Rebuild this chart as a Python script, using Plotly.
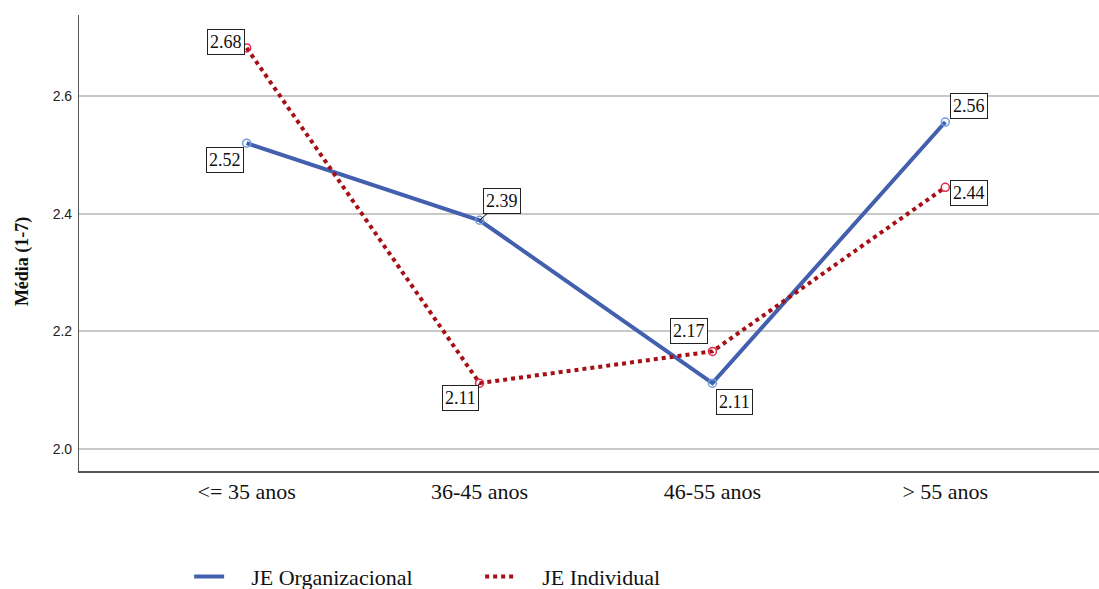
import plotly.graph_objects as go

categories = ["<= 35 anos", "36-45 anos", "46-55 anos", "> 55 anos"]
je_org = [2.52, 2.389, 2.112, 2.556]
je_ind = [2.682, 2.112, 2.166, 2.445]
org_labels = ["2.52", "2.39", "2.11", "2.56"]
ind_labels = ["2.68", "2.11", "2.17", "2.44"]
y_ticks = [2.0, 2.2, 2.4, 2.6]
y_tick_text = ["2.0", "2.2", "2.4", "2.6"]

xs = list(range(len(categories)))

BLUE = "#4360AF"
RED = "#A50F15"
PAD = "&nbsp;&nbsp;&nbsp;&nbsp;"

fig = go.Figure()
fig.add_trace(go.Scatter(
    x=xs, y=je_org, mode="lines", name=PAD + "JE Organizacional",
    line=dict(color=BLUE, width=4),
))
fig.add_trace(go.Scatter(
    x=xs, y=je_ind, mode="lines", name=PAD + "JE Individual",
    line=dict(color=RED, width=4, dash="dot"),
))
fig.add_trace(go.Scatter(
    x=xs, y=je_org, mode="markers", showlegend=False,
    marker=dict(symbol="circle-open", size=8, color="#6E9FE0", line=dict(width=1.5, color="#6E9FE0")),
))
fig.add_trace(go.Scatter(
    x=xs, y=je_ind, mode="markers", showlegend=False,
    marker=dict(symbol="circle-open", size=8, color="#E0284E", line=dict(width=1.5, color="#E0284E")),
))

org_off = [(-22, 17), (22, -19), (22, 19), (24, -16)]
ind_off = [(-21, -6), (-19, 15), (-23, -20), (24, 6)]

for vals, labs, offs, is_org in [(je_org, org_labels, org_off, True), (je_ind, ind_labels, ind_off, False)]:
    for i, (v, lab, (ax, ay)) in enumerate(zip(vals, labs, offs)):
        fig.add_annotation(
            x=xs[i], y=v, text=lab, showarrow=True, ax=ax, ay=ay,
            arrowhead=0, arrowwidth=1,
            arrowcolor="#000000" if (is_org and i == 1) else "rgba(0,0,0,0)",
            font=dict(family="Liberation Serif", size=18, color="#111111"),
            bgcolor="white", bordercolor="#222222", borderwidth=1, borderpad=2,
        )

fig.add_annotation(
    xref="paper", yref="paper", x=-0.056, y=0.46, text="<b>Média (1-7)</b>",
    textangle=-90, showarrow=False, xanchor="center", yanchor="middle",
    font=dict(family="Liberation Serif", size=18, color="#111111"),
)

fig.update_layout(
    width=1099, height=589,
    margin=dict(l=79, r=0, t=15, b=118, autoexpand=False),
    plot_bgcolor="white", paper_bgcolor="white",
    showlegend=True,
    legend=dict(
        orientation="h", x=0.108, y=-0.232, xanchor="left", yanchor="middle",
        font=dict(family="Liberation Serif", size=22, color="#111111"),
        itemwidth=30,
        entrywidth=246, entrywidthmode="pixels",
    ),
    xaxis=dict(
        range=[-0.72, 3.66], tickvals=xs, ticktext=categories,
        showgrid=False, zeroline=False, showline=True, linecolor="#555555", linewidth=1.5,
        ticks="", tickfont=dict(family="Liberation Serif", size=22, color="#111111"),
    ),
    yaxis=dict(
        range=[1.9626, 2.738], tickvals=y_ticks, ticktext=y_tick_text,
        showgrid=True, gridcolor="#C8C8C8", gridwidth=1.5, zeroline=False,
        showline=True, linecolor="#555555", linewidth=1.2, ticks="",
        ticklabelstandoff=3,
        tickfont=dict(family="Liberation Sans", size=14, color="#222222"),
    ),
)

fig.write_html(
    "out.html",
    config={"displayModeBar": False},
    post_script="document.body.style.margin='0';document.body.style.overflow='hidden';",
)
